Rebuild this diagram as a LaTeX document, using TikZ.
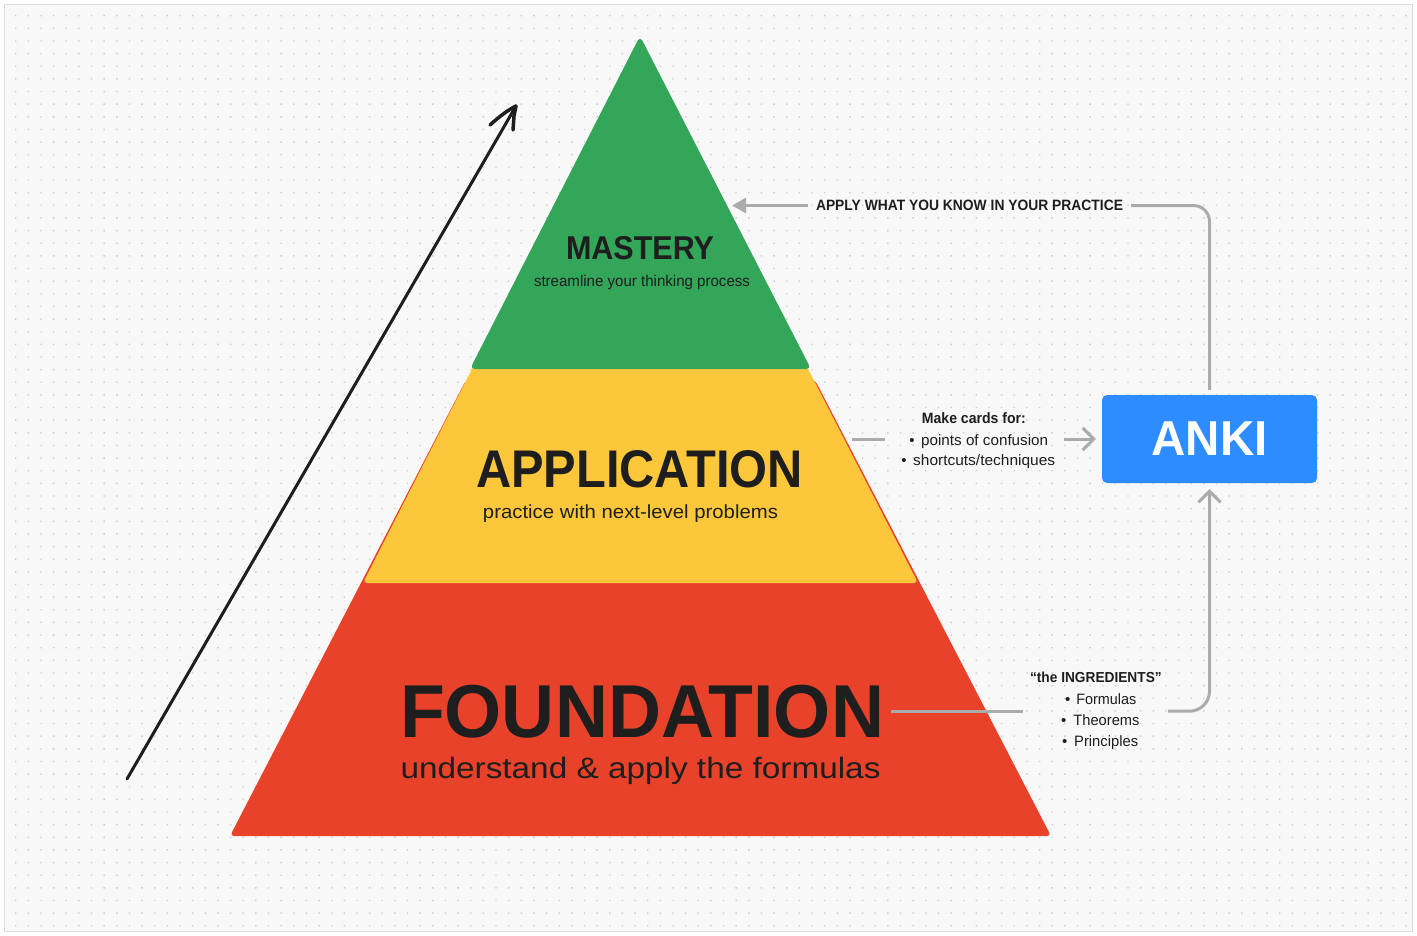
\documentclass[tikz,border=0pt]{standalone}
\usepackage{fontspec}
\setmainfont{Liberation Sans}
\usetikzlibrary{arrows.meta,fit}
\definecolor{ink}{HTML}{1E1E1E}
\definecolor{bgc}{HTML}{F8F8F8}
\definecolor{framec}{HTML}{DCDCDC}
\definecolor{dotc}{HTML}{CFCFCF}
\definecolor{greenc}{HTML}{34A65A}
\definecolor{yellowc}{HTML}{FCC73B}
\definecolor{redc}{HTML}{E8432A}
\definecolor{ankic}{HTML}{2D8CFF}
\definecolor{connc}{HTML}{ABABAB}
\newcommand\fitw[2]{\resizebox{#1}{\height}{#2}}
\begin{document}
\begin{tikzpicture}[x=1pt,y=-1pt,
  txt/.style={inner sep=0pt, text=ink},
  small/.style={font=\fontsize{15}{15}\selectfont},
  smallb/.style={font=\fontsize{15}{15}\selectfont\bfseries},
  conn/.style={draw=connc, line width=3pt},
  chev/.style={-{Straight Barb[length=11pt,width=22pt]}}]
\useasboundingbox (0,0) rectangle (1417,936);
\fill[white] (0,0) rectangle (1417,936);
\filldraw[fill=bgc, draw=framec, line width=1pt] (4.5,4.5) rectangle (1412.5,931.5);
\foreach \j in {0,...,72}{
  \fill[dotc] \foreach \i in {0,...,110}{ ({15+\i*12.64},{15+\j*12.64}) rectangle ++(1.4,1.4)};
}

% pyramid layers
\fill[redc, rounded corners=4pt] (640,836) -- (230,836) -- (466,380) -- (815,380) -- (1051,836) -- cycle;
\fill[yellowc, rounded corners=4pt] (640,583) -- (363,583) -- (474,365) -- (806,365) -- (918,583) -- cycle;
\fill[greenc, rounded corners=5pt] (640,369) -- (470,369) -- (640,36) -- (811,369) -- cycle;

% layer texts
\node[txt, anchor=base, font=\fontsize{33}{33}\selectfont\bfseries] (mastery) at (640,260) {\fitw{148pt}{MASTERY}};
\node[txt, anchor=base, font=\fontsize{15.5}{16}\selectfont] (mastsub) at (642,286.7) {\fitw{216pt}{streamline your thinking process}};
\node[txt, anchor=base, font=\fontsize{53}{53}\selectfont\bfseries] (appl) at (639.5,487) {\fitw{327pt}{APPLICATION}};
\node[txt, anchor=base, font=\fontsize{19}{19}\selectfont] (applsub) at (630.5,518) {\fitw{295pt}{practice with next-level problems}};
\node[txt, anchor=base, font=\fontsize{75}{75}\selectfont\bfseries] (found) at (642,737) {\fitw{484pt}{FOUNDATION}};
\node[txt, anchor=base, font=\fontsize{29.5}{30}\selectfont] (foundsub) at (640.5,778) {\fitw{480pt}{understand \& apply the formulas}};

% ANKI box
\node[fill=ankic, rounded corners=5pt, minimum width=215pt, minimum height=88pt, inner sep=0pt, text=white, font=\fontsize{49}{49}\selectfont\bfseries] (anki) at (1209.5,439) {\fitw{116pt}{ANKI}};

% labels
\node[txt, smallb, anchor=base] (lblApply) at (969.5,210.7) {\fitw{307pt}{APPLY WHAT YOU KNOW IN YOUR PRACTICE}};

\node[txt, smallb, anchor=base] (cards1) at (973.9,423) {\fitw{104pt}{Make cards for:}};
\node[txt, small, anchor=base west] (cards2) at (909.2,445) {\textbullet\hspace{6.5pt}\fitw{127pt}{points of confusion}};
\node[txt, small, anchor=base west] (cards3) at (901.2,465) {\textbullet\hspace{6.5pt}\fitw{142pt}{shortcuts/techniques}};
\node[fit=(cards1)(cards2)(cards3), inner sep=0pt] (cards) {};

\node[txt, font=\fontsize{14.5}{15}\selectfont\bfseries, anchor=base] (ingr1) at (1095.9,682) {\fitw{131.7pt}{“the INGREDIENTS”}};
\node[txt, small, anchor=base west] (ingr2) at (1065,704) {\textbullet\hspace{5.8pt}\fitw{60pt}{Formulas}};
\node[txt, small, anchor=base west] (ingr3) at (1061,725) {\textbullet\hspace{7pt}\fitw{66pt}{Theorems}};
\node[txt, small, anchor=base west] (ingr4) at (1062,746) {\textbullet\hspace{6.7pt}\fitw{64pt}{Principles}};
\node[fit=(ingr1)(ingr2)(ingr3)(ingr4), inner sep=0pt] (ingr) {};

% connectors
\coordinate (applyTip) at (732,205.3);
\draw[conn, rounded corners=16pt, shorten <=5pt, shorten >=8pt] (anki.north) |- (lblApply.east);
\draw[conn, shorten <=8pt, -{Triangle[length=14pt,width=15pt]}] (lblApply.west) -- (lblApply.west -| applyTip);

\coordinate (yelEdge) at (851.7,439);
\draw[conn, shorten >=16pt] (yelEdge) -- (yelEdge -| cards.west);
\draw[conn, chev, shorten <=8pt, shorten >=6pt] (cards.east |- anki.west) -- (anki.west);

\draw[conn, shorten <=7pt, shorten >=7pt] (found.east) -- (found.east -| ingr.west);
\draw[conn, chev, rounded corners=20pt, shorten <=6pt, shorten >=6pt] (found.east -| ingr.east) -| (anki.south);

% hand-drawn progress arrow
\coordinate (upS) at (127,779);
\coordinate (upE) at (516,106);
\coordinate (barbL) at (490,125);
\coordinate (barbR) at (513,130);
\draw[ink, line width=3pt, line cap=round] (upS) -- (upE);
\draw[ink, line width=3.5pt, line cap=round, line join=round] (barbL) .. controls (500,116) and (508,110) .. (upE) -- (514,116) -- (barbR);
\end{tikzpicture}
\end{document}
